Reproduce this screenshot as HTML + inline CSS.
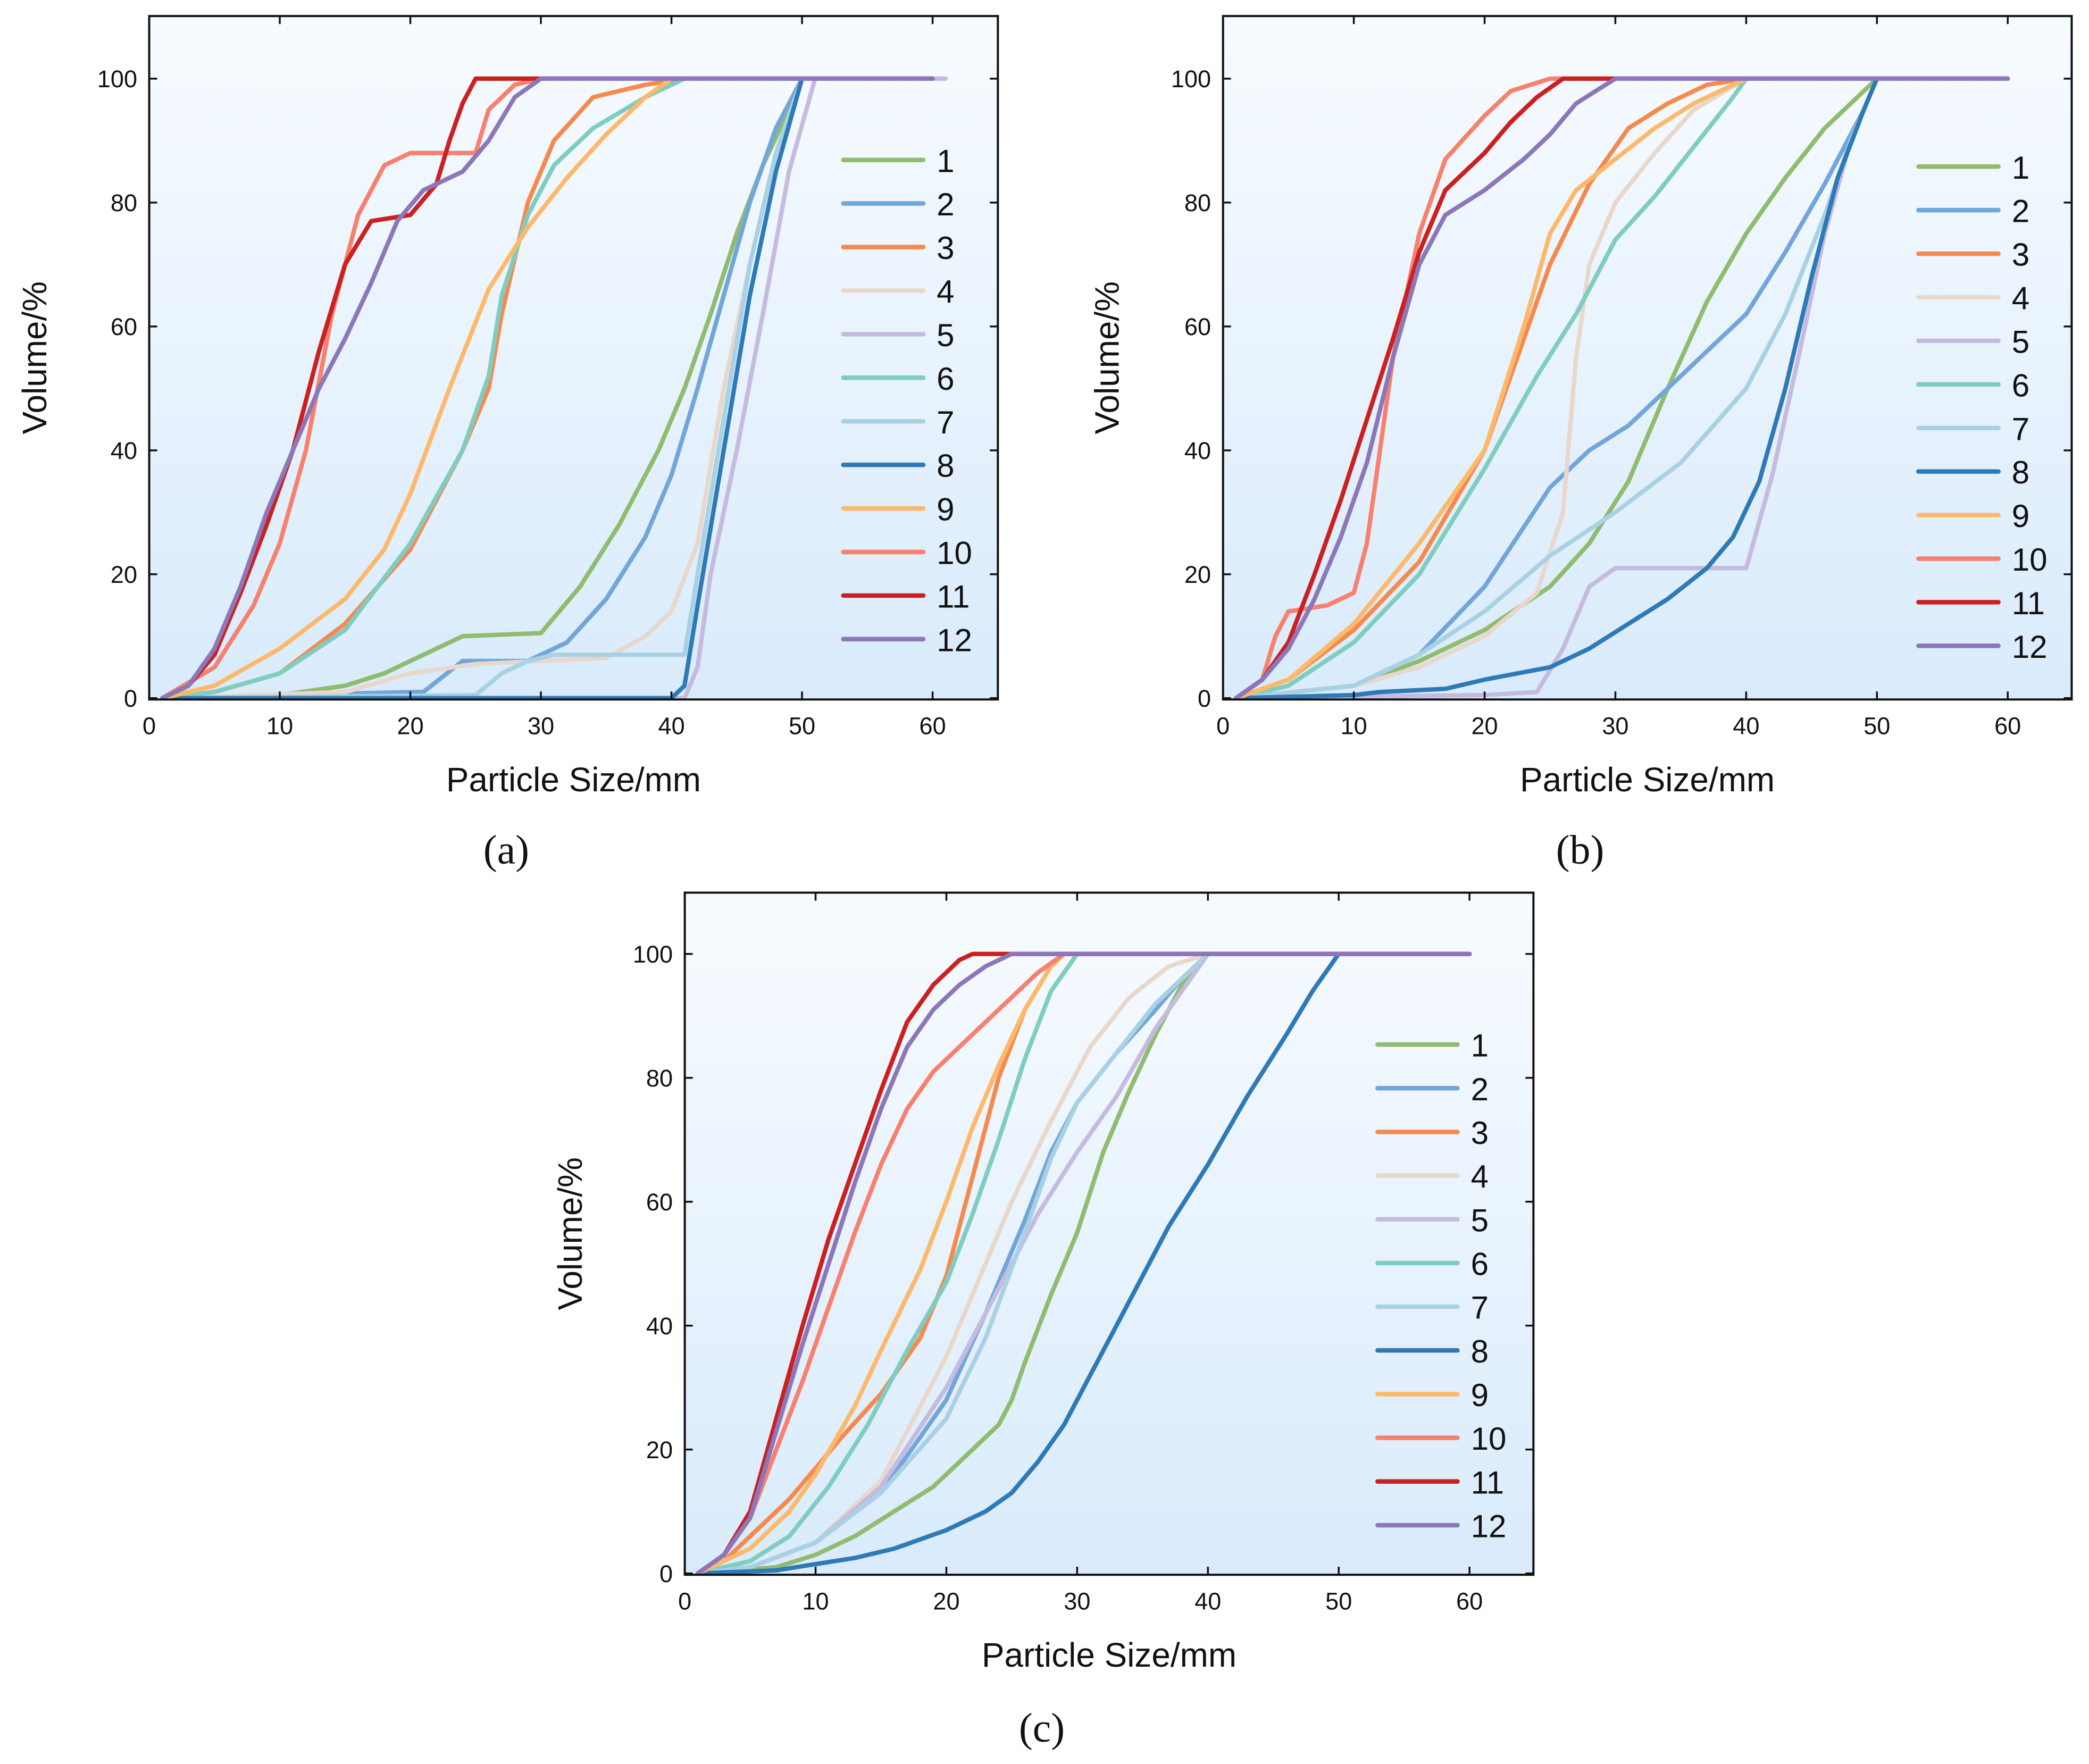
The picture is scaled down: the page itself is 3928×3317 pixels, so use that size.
<!DOCTYPE html>
<html><head><meta charset="utf-8">
<style>html,body{margin:0;padding:0;background:#fff;}svg{display:block;}</style>
</head><body>
<svg id="fig" xmlns="http://www.w3.org/2000/svg" width="3928" height="3317" viewBox="0 0 1568 1324">
<defs>
<linearGradient id="bg" x1="0" y1="0" x2="0" y2="1">
<stop offset="0" stop-color="#f7fbff"/><stop offset="1" stop-color="#d9ebfb"/>
</linearGradient>
</defs>
</svg>
<script>
const seriesNames = ['1','2','3','4','5','6','7','8','9','10','11','12'];
const seriesColors = ['#8fbc6f','#72a6da','#f58a4f','#e8d8cb','#c5bbe0','#7fcdc0','#a9d1e4','#2e7ab7','#fdb96b','#f7806e','#cc2020','#8c77ba'];
const xTicks = [0,10,20,30,40,50,60];
const yTicks = [0,20,40,60,80,100];
const panelLabels = ['(a)','(b)','(c)'];

const dataA = [
[[1,0],[10,0.5],[15,2],[18,4],[22,8],[24,10],[30,10.5],[33,18],[36,28],[39,40],[41,50],[43,62],[45,75],[47,86],[49,95],[50,100],[60,100]],
[[1,0],[20,1],[21,1],[24,6],[29,6],[32,9],[35,16],[38,26],[40,36],[42,50],[44,65],[46,80],[48,92],[50,100],[60,100]],
[[1,0],[5,1],[10,4],[15,12],[20,24],[24,40],[26,50],[27,62],[29,80],[31,90],[34,97],[38,99],[41,100],[60,100]],
[[1,0],[15,1],[20,4],[25,5.5],[35,6.5],[38,10],[40,14],[42,25],[44,50],[46,70],[48,88],[50,100],[60,100]],
[[1,0],[41,0],[42,5],[43,20],[45,40],[47,62],[49,85],[51,100],[61,100]],
[[1,0],[5,1],[10,4],[15,11],[20,25],[24,40],[26,52],[27,65],[29,78],[31,86],[34,92],[38,97],[41,100],[60,100]],
[[1,0],[25,0.5],[27,4],[29,6],[31,7],[41,7],[42,20],[44,45],[46,70],[48,88],[50,100],[60,100]],
[[1,0],[40,0],[41,2],[42,15],[44,40],[46,65],[48,85],[50,100],[60,100]],
[[1,0],[5,2],[10,8],[15,16],[18,24],[20,33],[23,50],[26,66],[29,76],[32,84],[35,91],[38,97],[40,100],[60,100]],
[[1,0],[5,5],[8,15],[10,25],[12,40],[14,62],[16,78],[18,86],[20,88],[25,88],[26,95],[28,99],[30,100],[60,100]],
[[1,0],[3,2],[5,7],[7,17],[9,28],[11,40],[13,56],[15,70],[17,77],[20,78],[22,83],[23,90],[24,96],[25,100],[60,100]],
[[1,0],[3,2],[5,8],[7,18],[9,30],[11,40],[13,50],[15,58],[17,67],[19,77],[21,82],[24,85],[26,90],[28,97],[30,100],[60,100]]
];
const dataB = [
[[1,0],[10,2],[15,6],[20,11],[25,18],[28,25],[31,35],[34,50],[37,64],[40,75],[43,84],[46,92],[48,96],[50,100],[60,100]],
[[1,0],[10,2],[15,7],[20,18],[25,34],[28,40],[31,44],[34,50],[37,56],[40,62],[43,72],[46,83],[49,95],[50,100],[60,100]],
[[1,0],[5,3],[10,11],[15,22],[20,40],[23,58],[25,70],[28,83],[31,92],[34,96],[37,99],[40,100],[60,100]],
[[1,0],[10,2],[15,5],[20,10],[24,17],[26,30],[27,55],[28,70],[30,80],[33,88],[36,95],[40,100],[60,100]],
[[1,0],[20,0.5],[24,1],[26,8],[28,18],[30,21],[40,21],[42,36],[44,55],[46,75],[48,90],[50,100],[60,100]],
[[1,0],[5,2],[10,9],[15,20],[20,37],[24,52],[27,62],[30,74],[33,81],[36,89],[39,97],[40,100],[60,100]],
[[1,0],[10,2],[15,7],[20,14],[25,23],[30,30],[35,38],[40,50],[43,62],[46,78],[48,90],[50,100],[60,100]],
[[1,0],[10,0.5],[12,1],[17,1.5],[20,3],[25,5],[28,8],[31,12],[34,16],[37,21],[39,26],[41,35],[43,50],[45,68],[47,84],[49,95],[50,100],[60,100]],
[[1,0],[5,3],[10,12],[15,25],[20,40],[23,60],[25,75],[27,82],[30,87],[33,92],[36,96],[40,100],[60,100]],
[[1,0],[3,3],[4,10],[5,14],[8,15],[10,17],[11,25],[12,40],[13,55],[15,75],[17,87],[20,94],[22,98],[25,100],[60,100]],
[[1,0],[3,3],[5,9],[7,20],[9,32],[11,45],[13,58],[15,72],[17,82],[20,88],[22,93],[24,97],[26,100],[60,100]],
[[1,0],[3,3],[5,8],[7,16],[9,26],[11,38],[13,55],[15,70],[17,78],[20,82],[23,87],[25,91],[27,96],[30,100],[60,100]]
];
const dataC = [
[[1,0],[7,1],[10,3],[13,6],[16,10],[19,14],[22,20],[24,24],[25,28],[26,34],[28,45],[30,55],[32,68],[34,78],[36,87],[38,95],[40,100],[60,100]],
[[1,0],[5,1],[10,5],[15,13],[20,28],[23,42],[26,57],[28,68],[30,76],[33,84],[36,91],[38,96],[40,100],[60,100]],
[[1,0],[3,2],[5,6],[8,12],[10,17],[12,22],[15,29],[18,38],[20,48],[22,64],[24,80],[26,91],[28,98],[29,100],[60,100]],
[[1,0],[5,1],[10,5],[15,15],[20,35],[23,50],[25,60],[28,73],[31,85],[34,93],[37,98],[40,100],[60,100]],
[[1,0],[5,1],[10,5],[15,14],[20,30],[24,46],[27,58],[30,68],[33,77],[36,88],[39,97],[40,100],[60,100]],
[[1,0],[5,2],[8,6],[11,14],[14,24],[17,36],[20,47],[22,58],[24,70],[26,83],[28,94],[30,100],[60,100]],
[[1,0],[5,1],[10,5],[15,13],[20,25],[23,38],[26,55],[28,67],[30,76],[33,84],[36,92],[39,98],[40,100],[60,100]],
[[1,0],[7,0.5],[10,1.5],[13,2.5],[16,4],[20,7],[23,10],[25,13],[27,18],[29,24],[31,32],[33,40],[35,48],[37,56],[40,66],[43,77],[46,87],[48,94],[50,100],[60,100]],
[[1,0],[3,2],[5,4],[8,10],[10,16],[13,27],[15,36],[18,49],[20,60],[22,72],[24,82],[26,91],[28,98],[29,100],[60,100]],
[[1,0],[3,3],[5,9],[7,20],[9,31],[11,43],[13,55],[15,66],[17,75],[19,81],[21,85],[23,89],[25,93],[27,97],[29,100],[60,100]],
[[1,0],[3,3],[5,10],[7,25],[9,40],[11,54],[13,66],[15,78],[17,89],[19,95],[21,99],[22,100],[60,100]],
[[1,0],[3,3],[5,9],[7,23],[9,37],[11,50],[13,63],[15,75],[17,85],[19,91],[21,95],[23,98],[25,100],[60,100]]
];
const panelData = [dataA, dataB, dataC];

const NS = 'http://www.w3.org/2000/svg';
const svg = document.getElementById('fig');
function mk(tag, attrs, parent) {
  const e = document.createElementNS(NS, tag);
  for (const k in attrs) e.setAttribute(k, attrs[k]);
  (parent || svg).appendChild(e);
  return e;
}
const layouts = [
  {L:112, T:12, R:749, B:525, x0:112, x60:700, y0:524, y100:59, legX:633, legY:120, legStep:32.7, ylabX:28, cap:[380,638]},
  {L:918, T:12, R:1555, B:525, x0:918, x60:1507, y0:524, y100:59, legX:1440, legY:125, legStep:32.7, ylabX:833, cap:[1186,638]},
  {L:514, T:670, R:1151, B:1182, x0:514, x60:1103, y0:1181, y100:716, legX:1034, legY:784, legStep:32.8, ylabX:430, cap:[782,1297]}
];
const pnames = ['a','b','c'];
layouts.forEach((P, pi) => {
  const g = mk('g', {});
  
  
  const sx = v => P.x0 + (P.x60 - P.x0) * v / 60;
  const sy = v => P.y0 + (P.y100 - P.y0) * v / 100;
  const bg = mk('rect', {x:P.L, y:P.T, width:P.R-P.L, height:P.B-P.T, fill:'url(#bg)'}, g);
  
  
  panelData[pi].forEach((pts, si) => {
    const d = pts.map((p, i) => (i ? 'L' : 'M') + sx(p[0]).toFixed(1) + ' ' + sy(p[1]).toFixed(1)).join(' ');
    const path = mk('path', {d:d, fill:'none', stroke:seriesColors[si], 'stroke-width':3.3, 'stroke-linejoin':'round', 'stroke-linecap':'round'}, g);
    
    
  });
  const fr = mk('rect', {x:P.L, y:P.T, width:P.R-P.L, height:P.B-P.T, fill:'none', stroke:'#111', 'stroke-width':1.6}, g);
  
  
  xTicks.forEach(t => {
    const x = sx(t);
    mk('line', {x1:x, x2:x, y1:P.B, y2:P.B-6, stroke:'#111', 'stroke-width':1.4}, g);
    mk('line', {x1:x, x2:x, y1:P.T, y2:P.T+6, stroke:'#111', 'stroke-width':1.4}, g);
    const tx = mk('text', {x:x, y:P.B+26, 'text-anchor':'middle', 'font-size':18, 'font-family':'Liberation Sans, sans-serif', fill:'#111'}, g);
    tx.textContent = t;
    
    
  });
  yTicks.forEach(t => {
    const y = sy(t);
    mk('line', {x1:P.L, x2:P.L+6, y1:y, y2:y, stroke:'#111', 'stroke-width':1.4}, g);
    mk('line', {x1:P.R, x2:P.R-6, y1:y, y2:y, stroke:'#111', 'stroke-width':1.4}, g);
    const tx = mk('text', {x:P.L-9, y:y+6.5, 'text-anchor':'end', 'font-size':18, 'font-family':'Liberation Sans, sans-serif', fill:'#111'}, g);
    tx.textContent = t;
    
    
  });
  seriesNames.forEach((n, si) => {
    const y = P.legY + si * P.legStep;
    const ln = mk('line', {x1:P.legX, x2:P.legX+60, y1:y, y2:y, stroke:seriesColors[si], 'stroke-width':3.4, 'stroke-linecap':'round'}, g);
    
    
    const tx = mk('text', {x:P.legX+70, y:y+9, 'font-size':24, 'font-family':'Liberation Sans, sans-serif', fill:'#111'}, g);
    tx.textContent = n;
    
    
  });
  const xt = mk('text', {x:(P.L+P.R)/2, y:P.B+69, 'text-anchor':'middle', 'font-size':25.5, 'font-family':'Liberation Sans, sans-serif', fill:'#111'}, g);
  xt.textContent = 'Particle Size/mm';
  
  
  const cy = (P.T + P.B) / 2;
  const yt = mk('text', {x:P.ylabX, y:cy, 'text-anchor':'middle', 'font-size':25.5, 'font-family':'Liberation Sans, sans-serif', fill:'#111', transform:'rotate(-90 '+(P.ylabX)+' '+cy+')', 'dominant-baseline':'middle'}, g);
  yt.textContent = 'Volume/%';
  
  
  const cp = mk('text', {x:P.cap[0], y:P.cap[1]+10, 'text-anchor':'middle', 'font-size':31, 'font-family':'Liberation Serif, serif', fill:'#111'}, g);
  cp.textContent = panelLabels[pi];
  
  
});
</script>
</body></html>
